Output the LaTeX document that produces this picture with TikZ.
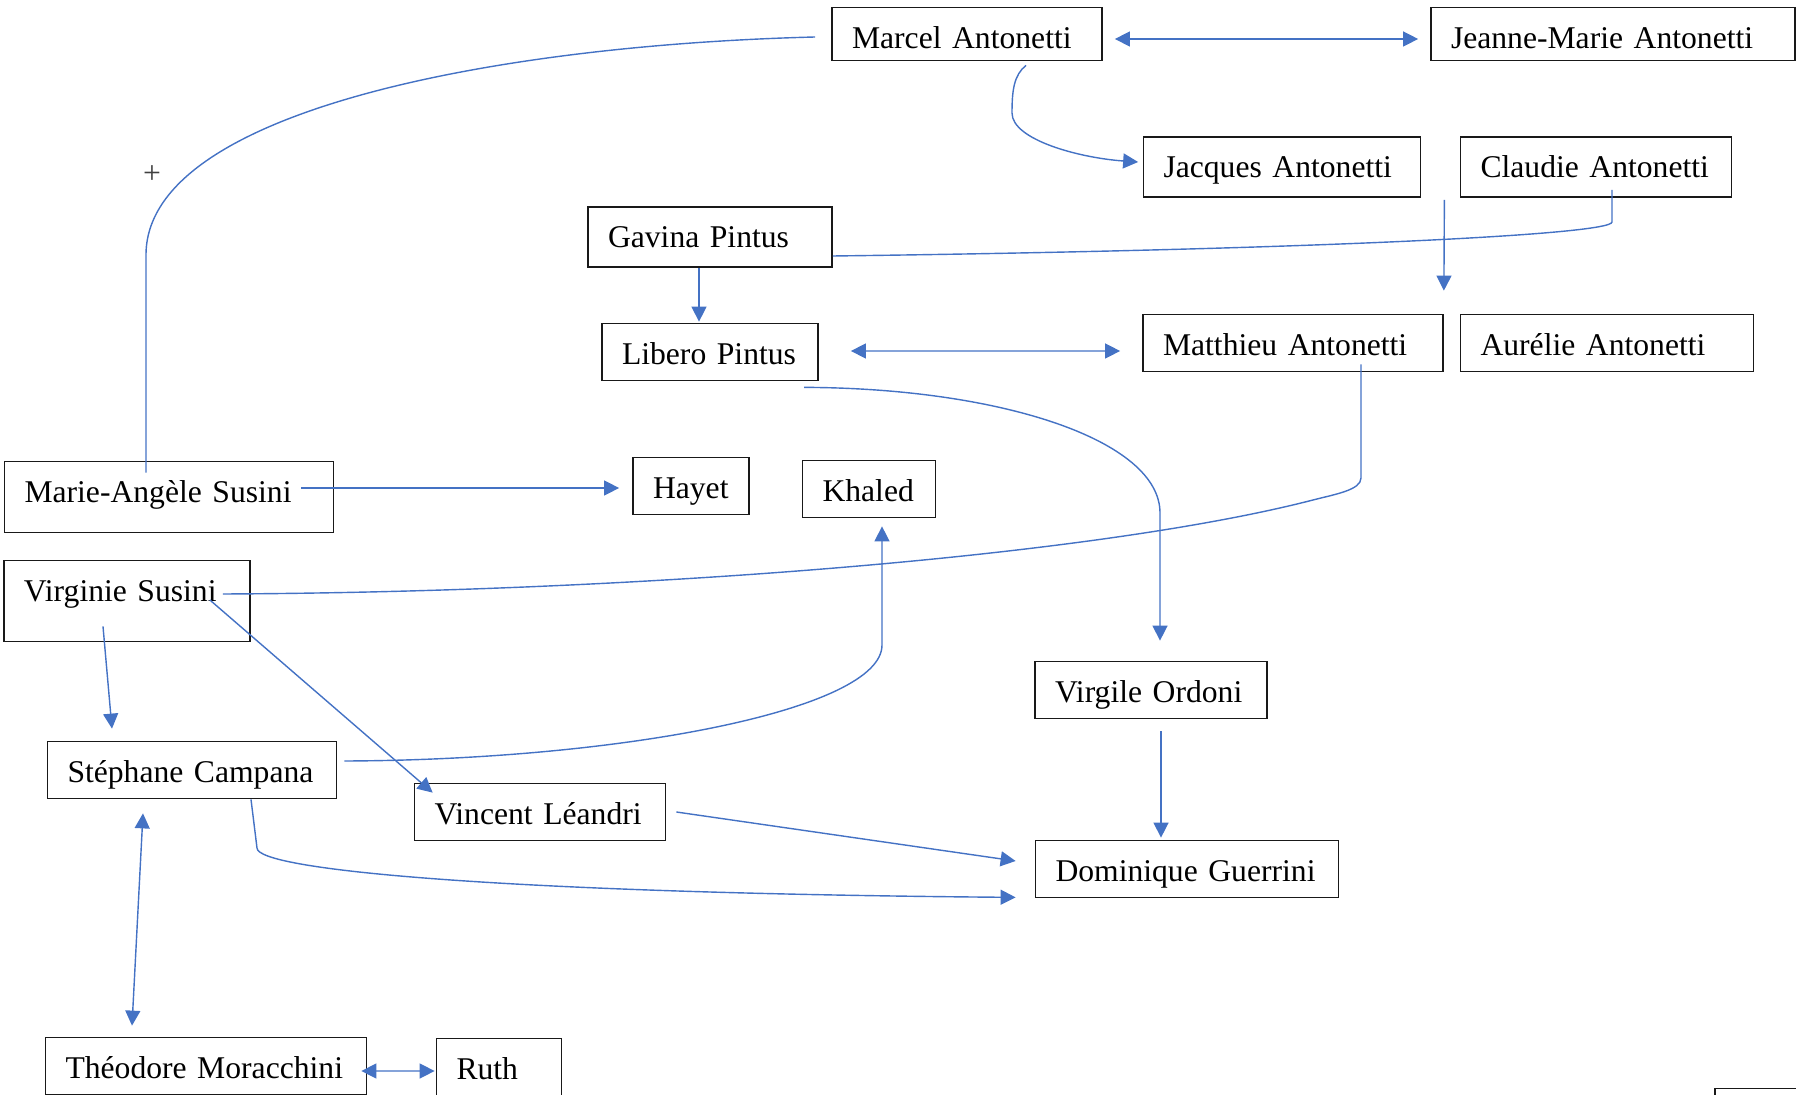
\documentclass[tikz,border=0pt]{standalone}
\usepackage{fontspec}
\setmainfont{Liberation Serif}
\usetikzlibrary{positioning,calc,arrows.meta}
\definecolor{linkclr}{RGB}{68,114,196}
\definecolor{boxclr}{RGB}{25,25,25}

\begin{document}
\begin{tikzpicture}[
    x=1cm,
    y=1cm,
    font=\fontsize{9}{11}\selectfont,
    >={Triangle[width=1.5mm,length=1.5mm]},
    person/.style={draw=boxclr, line width=0.5pt, inner xsep=0.2cm, inner ysep=0.1cm, text height=0.31cm, text depth=0.06cm, align=left},
    tie/.style={draw=linkclr, line width=0.4pt},
    flow/.style={tie, ->},
    pairflow/.style={tie, <->}
]

\useasboundingbox (0,0) rectangle (17.96,-10.95);
\clip (0,0) rectangle (17.96,-10.95);

% Antonetti side.
\node[person, text width=2.30cm, text depth=0.02cm] (marcel) at (9.67,-0.34) {Marcel Antonetti};
\node[person, text width=3.24cm, text depth=0.02cm] (jeanne) at (16.13,-0.34) {Jeanne-Marie Antonetti};
\node[person, text width=2.37cm, text depth=0.09cm] (jacques) at (12.82,-1.67) {Jacques Antonetti};
\node[person, text width=2.31cm, text depth=0.09cm] (claudie) at (15.96,-1.67) {Claudie Antonetti};
\node[person, text width=2.60cm] (matthieu) at (12.93,-3.43) {Matthieu Antonetti};
\node[person, text width=2.53cm] (aurelie) at (16.07,-3.43) {Aurélie Antonetti};

% Pintus side.
\node[person, text width=2.04cm, text depth=0.09cm] (gavina) at (7.10,-2.37) {Gavina Pintus};
\node[person, text width=1.76cm] (libero) at (7.10,-3.52) {Libero Pintus};

% Susini side.
\node[person, text width=2.89cm, text depth=0.20cm] (marieangele) at (1.69,-4.97) {Marie-Angèle Susini};
\node[person, text width=0.76cm] (hayet) at (6.91,-4.86) {Hayet};
\node[person, text width=0.93cm] (khaled) at (8.69,-4.89) {Khaled};
\node[person, text width=2.06cm, text depth=0.30cm] (virginie) at (1.27,-6.01) {Virginie Susini};
\node[person, text width=2.49cm] (stephane) at (1.92,-7.70) {Stéphane Campana};
\node[person, text width=2.11cm] (vincent) at (5.40,-8.12) {Vincent Léandri};

% Ordoni and Guerrini.
\node[person, text width=1.92cm] (virgile) at (11.51,-6.90) {Virgile Ordoni};
\node[person, text width=2.63cm] (dominique) at (11.87,-8.69) {Dominique Guerrini};

% Bottom row.
\node[person, text width=2.81cm] (theodore) at (2.06,-10.66) {Théodore Moracchini};
\node[person, text width=0.85cm] (ruth) at (4.99,-10.67) {Ruth};
\node[person, text width=1.60cm] (lastbox) at (18.15,-11.17) {};

\node[text=black!75, inner sep=0pt] (plusmark) at (1.52,-1.75) {+};

% Links.
\draw[pairflow] ($(marcel.east)+(0.12,-0.05)$) -- ($(jeanne.west)+(-0.12,-0.05)$);
\draw[flow] ($(marcel.south)+(0.59,-0.04)$) .. controls (10.14,-0.75) and (10.12,-0.90) .. (10.12,-1.13) .. controls (10.12,-1.40) and (10.80,-1.58) .. ($(jacques.west)+(-0.045,0.05)$);
\draw[tie] ($(marcel.west)+(-0.16,-0.03)$) .. controls (5.00,-0.45) and (1.46,-1.10) .. (1.46,-2.55) -- ($(marieangele.north)+(-0.23,-0.12)$);
\draw[tie] ($(claudie.south)+(0.16,0.08)$) -- (16.12,-2.22) .. controls (16.12,-2.35) and (13.00,-2.50) .. ($(gavina.east)+(0,-0.19)$);
\draw[flow] ($(jacques.south east)+(0.23,-0.02)$) -- ($(matthieu.north east)+(0,0.23)$);

\draw[flow] ($(gavina.south)+(-0.11,0)$) -- ($(libero.north)+(-0.11,0.01)$);
\draw[pairflow] ($(libero.east)+(0.32,0.01)$) -- ($(matthieu.west)+(-0.22,-0.08)$);
\draw[flow] ($(libero.south)+(0.94,-0.06)$) .. controls (10.00,-3.88) and (11.60,-4.40) .. (11.60,-5.13) -- ($(virgile.north)+(0.09,0.20)$);
\draw[tie] ($(matthieu.south)+(0.68,0.08)$) -- (13.61,-4.78) .. controls (13.61,-4.90) and (13.35,-4.943) .. (13.13,-5.00) .. controls (11.00,-5.55) and (6.50,-5.92) .. ($(virginie.east)+(-0.28,0.07)$);

\draw[flow] ($(marieangele.east)+(-0.33,0.09)$) -- ($(hayet.west)+(-0.13,-0.02)$);
\draw[flow] ($(stephane.east)+(0.07,0.09)$) .. controls (6.20,-7.60) and (8.82,-7.10) .. (8.82,-6.45) -- ($(khaled.south)+(0.13,-0.08)$);
\draw[flow] ($(virginie.south)+(-0.24,0.16)$) -- ($(stephane.north)+(-0.80,0.12)$);
\draw[flow] ($(virginie.east)+(-0.41,0.01)$) -- ($(vincent.north west)+(0.19,-0.10)$);

\draw[flow] ($(stephane.south)+(0.59,0)$) -- (2.57,-8.48) .. controls (2.57,-8.70) and (5.00,-8.93) .. ($(dominique.south west)+(-0.19,0.01)$);
\draw[flow] ($(vincent.east)+(0.10,0)$) -- ($(dominique.west)+(-0.19,0.08)$);
\draw[flow] ($(virgile.south)+(0.10,-0.12)$) -- ($(dominique.north)+(-0.26,0.02)$);

\draw[pairflow] ($(stephane.south)+(-0.49,-0.14)$) -- ($(theodore.north)+(-0.74,0.11)$);
\draw[pairflow] ($(theodore.east)+(-0.06,-0.05)$) -- ($(ruth.west)+(-0.01,-0.04)$);

\end{tikzpicture}
\end{document}
